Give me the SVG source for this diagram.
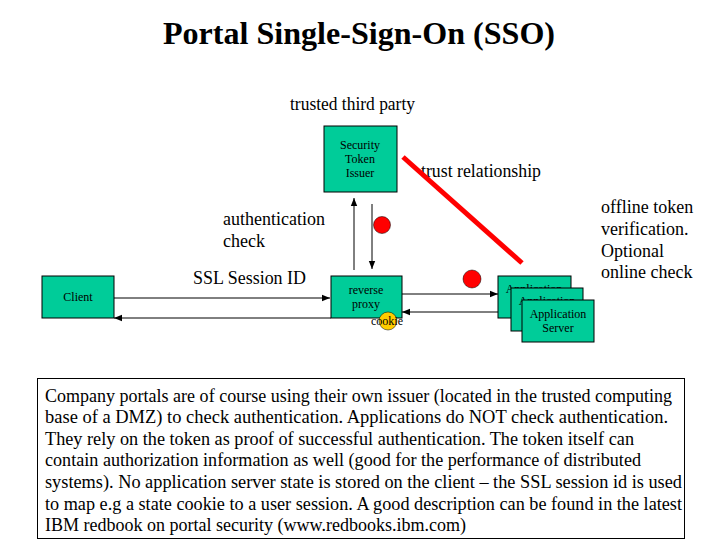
<svg xmlns="http://www.w3.org/2000/svg" width="720" height="540" viewBox="0 0 720 540">
<defs>
<marker id="ah" viewBox="0 0 10 10" refX="10" refY="5" markerWidth="8" markerHeight="8" markerUnits="userSpaceOnUse" orient="auto">
<path d="M0,1 L10,5 L0,9 z" fill="#000"/>
</marker>
<clipPath id="clip1"><path d="M498,276 H571 V288 H511 V318 H498 z"/></clipPath>
<clipPath id="clip2"><path d="M511,288 H583 V300 H522 V331 H511 z"/></clipPath>
</defs>
<style>
.box{fill:#00CC99;stroke:#000;stroke-width:1}
.s{font-size:12px}
.m{font-size:18px}
.c{stroke:#000;stroke-width:1;fill:none;marker-end:url(#ah)}
</style>
<rect width="720" height="540" fill="#fff"/>
<g font-family="'Liberation Serif', serif" fill="#000">
<text x="163" y="44" font-size="32" font-weight="bold" textLength="392" lengthAdjust="spacingAndGlyphs">Portal Single-Sign-On (SSO)</text>
<text class="m" x="290" y="110" textLength="125" lengthAdjust="spacingAndGlyphs">trusted third party</text>
<text class="m" x="421" y="177" textLength="120" lengthAdjust="spacingAndGlyphs">trust relationship</text>
<text class="m" x="223" y="225">authentication</text>
<text class="m" x="223" y="247">check</text>
<text class="m" x="193" y="284" textLength="113" lengthAdjust="spacingAndGlyphs">SSL Session ID</text>
<text class="m" x="601" y="213">offline token</text>
<text class="m" x="601" y="235">verification.</text>
<text class="m" x="601" y="257">Optional</text>
<text class="m" x="601" y="278">online check</text>

<g id="connectors">
<line class="c" x1="354" y1="270" x2="354" y2="198"/>
<line class="c" x1="372" y1="204" x2="372" y2="269"/>
<line class="c" x1="114" y1="298" x2="330" y2="298"/>
<line class="c" x1="331" y1="318" x2="114" y2="318"/>
<line class="c" x1="402" y1="294" x2="498" y2="294"/>
<line class="c" x1="498" y1="312" x2="402" y2="312"/>
<line x1="403" y1="157" x2="522" y2="263" stroke="#FF0000" stroke-width="5"/>
</g>

<g id="issuer">
<rect class="box" x="324" y="126" width="73" height="66"/>
<text class="s" x="360" y="149" text-anchor="middle">Security</text>
<text class="s" x="360" y="163" text-anchor="middle">Token</text>
<text class="s" x="360" y="177" text-anchor="middle">Issuer</text>
</g>
<g id="client">
<rect class="box" x="42" y="276" width="72" height="42"/>
<text class="s" x="78" y="301" text-anchor="middle">Client</text>
</g>
<g id="proxy">
<rect class="box" x="331" y="276" width="71" height="42"/>
<text class="s" x="366" y="294" text-anchor="middle">reverse</text>
<text class="s" x="366" y="308" text-anchor="middle">proxy</text>
</g>
<g id="app1">
<rect class="box" x="498" y="276" width="73" height="42"/>
<g clip-path="url(#clip1)">
<text class="s" x="534" y="293" text-anchor="middle">Application</text>
</g>
</g>
<g id="app2">
<rect class="box" x="511" y="288" width="72" height="43"/>
<g clip-path="url(#clip2)">
<text class="s" x="547" y="305" text-anchor="middle">Application</text>
</g>
</g>
<g id="app3">
<rect class="box" x="522" y="300" width="72" height="42"/>
<text class="s" x="558" y="318" text-anchor="middle">Application</text>
<text class="s" x="558" y="332" text-anchor="middle">Server</text>
</g>
<g id="markers">
<circle cx="382" cy="225" r="8.5" fill="#FF0000" stroke="#000" stroke-width="0.5"/>
<circle cx="472" cy="279" r="9" fill="#FF0000" stroke="#000" stroke-width="0.5"/>
<circle cx="388" cy="321" r="9" fill="#FFCC00" stroke="#000" stroke-width="0.5"/>
<text class="s" x="371" y="325">cookie</text>
</g>
<g id="note">
<rect x="37.5" y="378.5" width="647" height="160" fill="#fff" stroke="#000" stroke-width="1"/>
<text class="m" x="45" y="401.5" textLength="627" lengthAdjust="spacingAndGlyphs">Company portals are of course using their own issuer (located in the trusted computing</text>
<text class="m" x="45" y="423" textLength="623" lengthAdjust="spacingAndGlyphs">base of a DMZ) to check authentication. Applications do NOT check authentication.</text>
<text class="m" x="45" y="444.7" textLength="589" lengthAdjust="spacingAndGlyphs">They rely on the token as proof of successful authentication. The token itself can</text>
<text class="m" x="45" y="466.3" textLength="596" lengthAdjust="spacingAndGlyphs">contain authorization information as well (good for the performance of distributed</text>
<text class="m" x="45" y="488" textLength="637" lengthAdjust="spacingAndGlyphs">systems). No application server state is stored on the client – the SSL session id is used</text>
<text class="m" x="45" y="509.5" textLength="637" lengthAdjust="spacingAndGlyphs">to map e.g a state cookie to a user session. A good description can be found in the latest</text>
<text class="m" x="45" y="531" textLength="421" lengthAdjust="spacingAndGlyphs">IBM redbook on portal security (www.redbooks.ibm.com)</text>
</g>
</g>
</svg>
